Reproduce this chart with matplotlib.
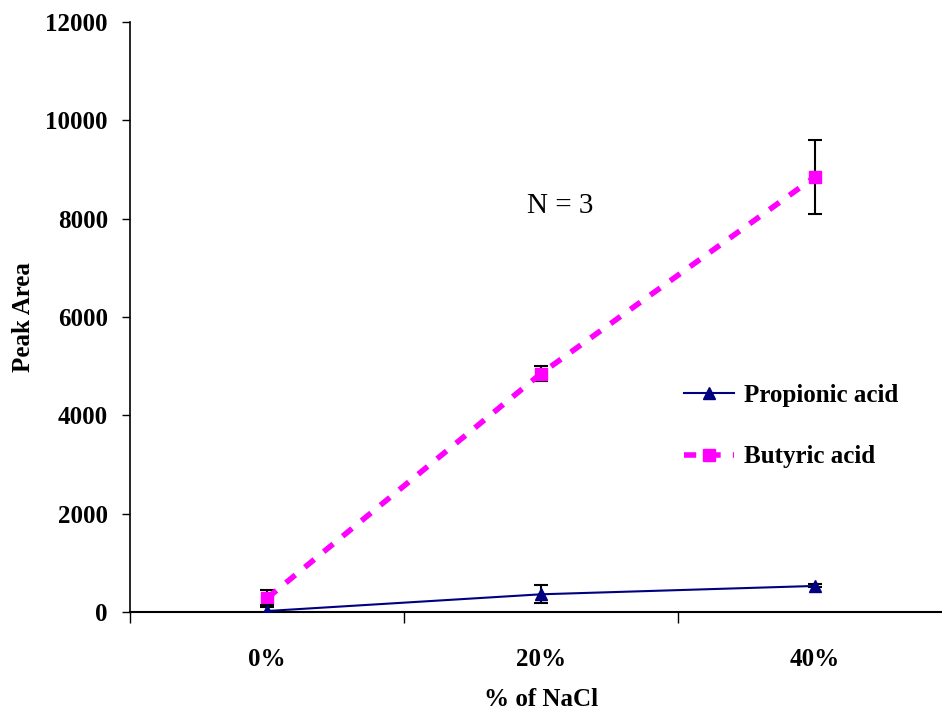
import numpy as np
import matplotlib
matplotlib.use("Agg")
import matplotlib.pyplot as plt
from matplotlib.lines import Line2D

categories = ["0%", "20%", "40%"]
propionic = [20, 360, 530]
propionic_err = [130, 180, 30]
butyric = [280, 4850, 8850]
butyric_err = [170, 160, 750]

plt.rcParams['font.family'] = ['Liberation Serif', 'DejaVu Serif']

fig = plt.figure(figsize=(9.42, 7.11), dpi=100)
ax = fig.add_axes([130 / 942, 1 - 612 / 711, 822 / 942, 590 / 711])

x = np.arange(len(categories))

b_style = dict(color='#FF00FF', lw=4, ls=(0, (2.2, 2.2)), marker='s', ms=9)
p_style = dict(color='#000080', lw=1.5, marker='^', ms=9)

ax.errorbar(x, butyric, yerr=butyric_err, ecolor='black', elinewidth=1.5,
            capsize=5, capthick=1.5, zorder=3, **b_style)
ax.errorbar(x, propionic, yerr=propionic_err, ecolor='black', elinewidth=1.5,
            capsize=5, capthick=1.5, zorder=4, **p_style)

ax.set_xlim(-0.5, 2.5)
ax.set_ylim(0, 12000)
ax.set_yticks(np.arange(0, 12001, 2000))

# category separators as major ticks, labels on minor ticks
ax.set_xticks([-0.5, 0.5, 1.5, 2.5])
ax.set_xticklabels([])
ax.set_xticks(x, minor=True)
ax.set_xticklabels(categories, minor=True, fontsize=18, fontweight='bold')
ax.tick_params(axis='x', which='major', direction='out', length=8, width=1)
ax.tick_params(axis='x', which='minor', length=0, pad=26)
ax.tick_params(axis='y', direction='out', length=6, width=1, pad=10,
               labelsize=18)
for lab in ax.get_yticklabels():
    lab.set_fontweight('bold')

ax.spines['top'].set_visible(False)
ax.spines['right'].set_visible(False)
ax.spines['left'].set_linewidth(1.2)
ax.spines['bottom'].set_linewidth(1.5)

ax.set_xlabel('% of NaCl', fontsize=18, fontweight='bold')
ax.xaxis.set_label_coords(0.5, -0.128)
ax.set_ylabel('Peak Area', fontsize=18, fontweight='bold')
ax.yaxis.set_label_coords(-0.116, 0.5)

ax.text(1.07, 8250, 'N = 3', fontsize=21, ha='center', va='center')

handles = [Line2D([], [], **p_style), Line2D([], [], **b_style)]
ax.legend(handles, ['Propionic acid', 'Butyric acid'], loc='upper left',
          bbox_to_anchor=(0.646, 0.425), frameon=False,
          prop={'weight': 'bold', 'size': 18},
          handlelength=2.0, labelspacing=1.55, handletextpad=0.4)

fig.savefig('out.png', dpi=100)
